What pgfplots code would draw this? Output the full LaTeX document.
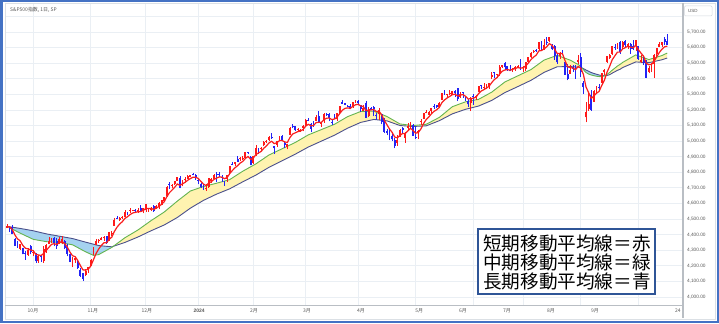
\documentclass[border=0pt]{standalone}
\usepackage{fontspec}
\setmainfont{Liberation Sans}
\newfontfamily\jp{Noto Sans CJK JP}
\usepackage{pgfplots}
\pgfplotsset{compat=1.18}
\usepackage{pgfplotstable}
\usepgfplotslibrary{fillbetween}

\definecolor{upred}{RGB}{255,25,25}
\definecolor{dnblue}{RGB}{35,35,245}
\definecolor{mared}{RGB}{250,30,30}
\definecolor{magreen}{RGB}{100,180,80}
\definecolor{manavy}{RGB}{75,80,140}
\definecolor{fillblue}{RGB}{165,210,240}
\definecolor{fillyel}{RGB}{255,243,176}
\definecolor{gridc}{RGB}{234,239,244}
\definecolor{axisc}{RGB}{185,190,196}
\definecolor{labc}{RGB}{90,90,90}
\definecolor{frameblue}{RGB}{68,114,196}
\definecolor{boxblue}{RGB}{47,85,151}

\pgfplotstableread{
i o h l c
0 4445 4466 4442 4453
1 4445 4449 4417 4444
2 4452 4462 4402 4402
3 4374 4376 4330 4330
4 4341 4357 4316 4320
5 4310 4338 4303 4337
6 4313 4314 4273 4274
7 4283 4292 4239 4275
8 4270 4317 4264 4300
9 4328 4333 4274 4288
10 4284 4300 4260 4288
11 4270 4281 4220 4229
12 4234 4268 4220 4263
13 4260 4268 4226 4258
14 4234 4324 4219 4308
15 4289 4339 4284 4336
16 4339 4385 4339 4358
17 4366 4378 4346 4376
18 4380 4386 4326 4349
19 4360 4378 4311 4327
20 4342 4383 4342 4373
21 4345 4394 4337 4373
22 4357 4368 4306 4315
23 4321 4339 4260 4278
24 4274 4277 4223 4224
25 4210 4255 4190 4217
26 4235 4255 4219 4248
27 4233 4236 4181 4186
28 4175 4183 4127 4137
29 4153 4157 4104 4117
30 4140 4178 4133 4167
31 4171 4194 4153 4194
32 4201 4245 4198 4238
33 4269 4319 4269 4318
34 4334 4373 4334 4358
35 4361 4372 4347 4365
36 4366 4386 4364 4378
37 4380 4391 4360 4383
38 4391 4393 4343 4347
39 4365 4415 4360 4415
40 4407 4421 4394 4411
41 4458 4505 4458 4496
42 4505 4522 4500 4503
43 4497 4512 4488 4509
44 4510 4520 4500 4514
45 4511 4557 4511 4547
46 4539 4542 4526 4538
47 4553 4568 4540 4556
48 4555 4561 4552 4559
49 4555 4562 4546 4551
50 4545 4568 4540 4555
51 4571 4587 4547 4551
52 4554 4569 4537 4568
53 4559 4599 4547 4595
54 4564 4572 4547 4569
55 4557 4578 4551 4567
56 4586 4590 4547 4549
57 4568 4591 4566 4585
58 4576 4610 4565 4604
59 4593 4623 4590 4622
60 4618 4644 4608 4644
61 4647 4709 4643 4707
62 4721 4739 4694 4720
63 4714 4726 4702 4719
64 4725 4747 4720 4741
65 4743 4769 4743 4768
66 4764 4779 4699 4699
67 4725 4749 4709 4746
68 4754 4773 4736 4755
69 4759 4785 4758 4775
70 4773 4785 4768 4782
71 4787 4794 4780 4783
72 4782 4789 4751 4770
73 4745 4755 4723 4743
74 4726 4729 4700 4705
75 4698 4727 4688 4689
76 4690 4722 4683 4697
77 4703 4764 4700 4764
78 4742 4765 4730 4757
79 4760 4791 4757 4783
80 4792 4799 4739 4780
81 4792 4802 4768 4784
82 4773 4782 4740 4766
83 4742 4744 4714 4739
84 4760 4784 4740 4781
85 4796 4842 4785 4840
86 4853 4868 4845 4851
87 4856 4866 4842 4865
88 4888 4903 4865 4868
89 4886 4898 4870 4894
90 4888 4907 4881 4891
91 4892 4929 4887 4928
92 4927 4932 4917 4925
93 4899 4906 4845 4846
94 4862 4906 4853 4906
95 4917 4975 4907 4959
96 4957 4957 4918 4943
97 4951 4964 4937 4954
98 4973 5000 4970 4995
99 4995 5004 4988 4998
100 5004 5031 4998 5027
101 5027 5049 5016 5022
102 4968 4971 4920 4953
103 4976 5003 4963 5001
104 5004 5032 4999 5030
105 5031 5039 4999 5006
106 4990 4994 4954 4976
107 4963 4983 4947 4982
108 5039 5090 5038 5087
109 5100 5112 5081 5089
110 5094 5098 5068 5070
111 5074 5081 5058 5078
112 5068 5077 5058 5069
113 5085 5105 5063 5096
114 5099 5140 5094 5137
115 5133 5149 5127 5131
116 5111 5114 5057 5079
117 5108 5127 5092 5105
118 5132 5165 5128 5157
119 5164 5190 5114 5124
120 5111 5125 5092 5117
121 5134 5180 5117 5175
122 5174 5180 5161 5165
123 5176 5180 5127 5150
124 5123 5136 5104 5117
125 5154 5176 5145 5149
126 5140 5180 5131 5179
127 5181 5226 5171 5224
128 5254 5261 5240 5241
129 5243 5246 5229 5234
130 5220 5229 5216 5218
131 5228 5236 5203 5203
132 5226 5249 5213 5248
133 5248 5264 5246 5254
134 5257 5263 5229 5243
135 5232 5233 5189 5205
136 5195 5229 5194 5211
137 5244 5256 5146 5147
138 5158 5222 5157 5204
139 5211 5219 5197 5202
140 5217 5224 5160 5209
141 5167 5178 5138 5161
142 5172 5211 5138 5199
143 5171 5175 5107 5123
144 5149 5150 5052 5061
145 5064 5079 5039 5051
146 5068 5077 5007 5022
147 5032 5046 5001 5011
148 5005 5019 4953 4967
149 4988 5038 4969 5010
150 5028 5076 5027 5070
151 5084 5089 5047 5072
152 5019 5058 4990 5048
153 5084 5114 5073 5100
154 5115 5124 5086 5116
155 5103 5110 5035 5036
156 5029 5096 5013 5018
157 5050 5070 5011 5064
158 5122 5139 5102 5128
159 5143 5181 5143 5181
160 5184 5200 5178 5187
161 5168 5191 5165 5188
162 5190 5215 5183 5214
163 5225 5239 5209 5223
164 5233 5234 5211 5221
165 5221 5250 5218 5247
166 5264 5311 5263 5308
167 5311 5325 5296 5297
168 5300 5305 5284 5303
169 5305 5325 5299 5308
170 5299 5324 5297 5321
171 5319 5325 5283 5307
172 5341 5342 5257 5268
173 5282 5316 5279 5305
174 5315 5316 5279 5306
175 5278 5282 5260 5267
176 5260 5270 5222 5235
177 5244 5280 5192 5278
178 5287 5302 5234 5283
179 5278 5298 5265 5291
180 5314 5355 5312 5354
181 5357 5362 5335 5352
182 5343 5376 5331 5347
183 5341 5366 5332 5361
184 5353 5376 5335 5375
185 5409 5442 5397 5421
186 5441 5442 5403 5434
187 5424 5432 5403 5431
188 5431 5488 5420 5473
189 5476 5490 5471 5487
190 5499 5505 5455 5473
191 5480 5485 5452 5465
192 5459 5490 5447 5448
193 5461 5472 5446 5469
194 5460 5483 5452 5478
195 5473 5490 5467 5483
196 5488 5524 5459 5460
197 5471 5479 5446 5475
198 5461 5510 5452 5509
199 5507 5540 5507 5537
200 5537 5570 5531 5567
201 5570 5583 5563 5572
202 5585 5590 5574 5577
203 5591 5635 5587 5633
204 5635 5642 5576 5585
205 5590 5655 5583 5615
206 5638 5667 5619 5631
207 5644 5670 5637 5667
208 5610 5622 5584 5589
209 5608 5614 5522 5545
210 5543 5557 5497 5505
211 5544 5570 5528 5564
212 5565 5585 5554 5556
213 5505 5508 5426 5427
214 5429 5492 5390 5399
215 5433 5488 5431 5459
216 5476 5487 5445 5464
217 5478 5486 5399 5436
218 5506 5551 5493 5522
219 5537 5567 5410 5446
220 5376 5383 5302 5347
221 5152 5250 5120 5186
222 5206 5313 5194 5240
223 5293 5330 5195 5199
224 5252 5327 5250 5319
225 5311 5351 5306 5344
226 5345 5364 5331 5344
227 5376 5436 5376 5434
228 5442 5464 5421 5455
229 5506 5545 5504 5543
230 5531 5562 5528 5554
231 5557 5608 5551 5608
232 5603 5620 5585 5597
233 5605 5632 5592 5620
234 5637 5643 5560 5571
235 5602 5642 5590 5634
236 5640 5651 5603 5617
237 5602 5631 5593 5626
238 5624 5628 5560 5592
239 5608 5647 5583 5592
240 5612 5651 5581 5648
241 5612 5612 5518 5528
242 5506 5553 5504 5520
243 5520 5547 5491 5503
244 5507 5523 5402 5408
245 5442 5484 5434 5471
246 5491 5501 5442 5496
247 5496 5560 5406 5554
248 5557 5600 5535 5596
249 5604 5636 5601 5626
250 5616 5637 5605 5633
251 5655 5671 5615 5634
252 5641 5690 5615 5618
}\candles

\pgfplotstableread[row sep=\\]{
i v\\
0 4453\\ 1 4450\\ 2 4434\\ 3 4399\\ 4 4373\\ 5 4361\\ 6 4332\\ 7 4313\\ 8 4309\\ 9 4302\\
10 4297\\ 11 4274\\ 12 4270\\ 13 4266\\ 14 4280\\ 15 4299\\ 16 4319\\ 17 4338\\ 18 4342\\ 19 4337\\
20 4349\\ 21 4357\\ 22 4343\\ 23 4321\\ 24 4289\\ 25 4265\\ 26 4259\\ 27 4235\\ 28 4202\\ 29 4174\\
30 4172\\ 31 4179\\ 32 4199\\ 33 4239\\ 34 4279\\ 35 4308\\ 36 4331\\ 37 4348\\ 38 4348\\ 39 4370\\
40 4384\\ 41 4421\\ 42 4448\\ 43 4468\\ 44 4483\\ 45 4504\\ 46 4515\\ 47 4529\\ 48 4539\\ 49 4543\\
50 4547\\ 51 4548\\ 52 4555\\ 53 4568\\ 54 4568\\ 55 4568\\ 56 4562\\ 57 4570\\ 58 4581\\ 59 4595\\
60 4611\\ 61 4643\\ 62 4669\\ 63 4686\\ 64 4704\\ 65 4725\\ 66 4716\\ 67 4726\\ 68 4736\\ 69 4749\\
70 4760\\ 71 4768\\ 72 4769\\ 73 4760\\ 74 4742\\ 75 4724\\ 76 4715\\ 77 4731\\ 78 4740\\ 79 4754\\
80 4763\\ 81 4770\\ 82 4769\\ 83 4759\\ 84 4766\\ 85 4791\\ 86 4811\\ 87 4829\\ 88 4842\\ 89 4859\\
90 4870\\ 91 4889\\ 92 4901\\ 93 4883\\ 94 4891\\ 95 4914\\ 96 4924\\ 97 4934\\ 98 4954\\ 99 4969\\
100 4988\\ 101 4999\\ 102 4984\\ 103 4990\\ 104 5003\\ 105 5004\\ 106 4995\\ 107 4991\\ 108 5023\\ 109 5045\\
110 5053\\ 111 5061\\ 112 5064\\ 113 5075\\ 114 5096\\ 115 5108\\ 116 5098\\ 117 5100\\ 118 5119\\ 119 5121\\
120 5120\\ 121 5138\\ 122 5147\\ 123 5148\\ 124 5138\\ 125 5142\\ 126 5154\\ 127 5177\\ 128 5198\\ 129 5210\\
130 5213\\ 131 5210\\ 132 5223\\ 133 5233\\ 134 5236\\ 135 5226\\ 136 5221\\ 137 5196\\ 138 5199\\ 139 5200\\
140 5203\\ 141 5189\\ 142 5192\\ 143 5169\\ 144 5133\\ 145 5106\\ 146 5078\\ 147 5056\\ 148 5026\\ 149 5021\\
150 5037\\ 151 5049\\ 152 5049\\ 153 5066\\ 154 5083\\ 155 5067\\ 156 5051\\ 157 5055\\ 158 5079\\ 159 5113\\
160 5138\\ 161 5155\\ 162 5175\\ 163 5191\\ 164 5201\\ 165 5216\\ 166 5247\\ 167 5264\\ 168 5277\\ 169 5287\\
170 5298\\ 171 5301\\ 172 5290\\ 173 5295\\ 174 5299\\ 175 5288\\ 176 5270\\ 177 5273\\ 178 5276\\ 179 5281\\
180 5305\\ 181 5321\\ 182 5330\\ 183 5340\\ 184 5352\\ 185 5375\\ 186 5395\\ 187 5407\\ 188 5429\\ 189 5448\\
190 5456\\ 191 5459\\ 192 5455\\ 193 5460\\ 194 5466\\ 195 5472\\ 196 5468\\ 197 5470\\ 198 5483\\ 199 5501\\
200 5523\\ 201 5539\\ 202 5552\\ 203 5579\\ 204 5581\\ 205 5592\\ 206 5605\\ 207 5626\\ 208 5614\\ 209 5591\\
210 5562\\ 211 5563\\ 212 5561\\ 213 5516\\ 214 5477\\ 215 5471\\ 216 5469\\ 217 5458\\ 218 5479\\ 219 5468\\
220 5428\\ 221 5347\\ 222 5311\\ 223 5274\\ 224 5289\\ 225 5307\\ 226 5319\\ 227 5357\\ 228 5390\\ 229 5441\\
230 5479\\ 231 5522\\ 232 5547\\ 233 5571\\ 234 5571\\ 235 5592\\ 236 5600\\ 237 5609\\ 238 5603\\ 239 5599\\
240 5615\\ 241 5586\\ 242 5564\\ 243 5544\\ 244 5499\\ 245 5490\\ 246 5492\\ 247 5513\\ 248 5541\\ 249 5569\\
250 5590\\ 251 5605\\ 252 5609\\
}\redma

\pgfplotstableread[row sep=\\]{
i v\\
0 4453\\ 5 4410\\ 10 4370\\ 15 4355\\ 20 4350\\ 25 4335\\ 30 4290\\ 33 4267\\ 35 4272\\ 40 4318\\
45 4380\\ 50 4430\\ 55 4490\\ 60 4545\\ 65 4615\\ 70 4680\\ 75 4709\\ 80 4730\\ 85 4753\\ 90 4807\\
95 4854\\ 100 4911\\ 105 4951\\ 110 4991\\ 115 5040\\ 120 5074\\ 125 5108\\ 130 5157\\ 135 5190\\ 140 5192\\
145 5158\\ 150 5110\\ 155 5100\\ 160 5108\\ 165 5152\\ 170 5221\\ 175 5252\\ 180 5268\\ 185 5314\\ 190 5379\\
195 5419\\ 200 5459\\ 205 5520\\ 210 5550\\ 215 5519\\ 216 5510\\ 217 5500\\ 218 5492\\ 219 5478\\ 220 5458\\
221 5440\\ 222 5430\\ 223 5424\\ 224 5420\\ 225 5416\\ 226 5414\\ 227 5414\\ 228 5418\\ 229 5428\\ 230 5440\\
231 5455\\ 232 5468\\ 233 5482\\ 234 5492\\ 235 5505\\ 240 5553\\ 245 5523\\ 250 5549\\ 252 5565\\
}\greenma

\pgfplotstableread[row sep=\\]{
i v\\
0 4453\\ 5 4440\\ 10 4425\\ 15 4405\\ 20 4390\\ 25 4375\\ 30 4352\\ 35 4330\\ 40 4322\\ 45 4350\\
50 4385\\ 55 4425\\ 60 4462\\ 65 4510\\ 70 4570\\ 75 4620\\ 80 4660\\ 85 4694\\ 90 4739\\ 95 4782\\
100 4832\\ 105 4874\\ 110 4916\\ 115 4962\\ 120 5000\\ 125 5038\\ 130 5083\\ 135 5120\\ 140 5139\\ 145 5130\\
150 5100\\ 155 5094\\ 160 5098\\ 165 5131\\ 170 5175\\ 175 5204\\ 180 5225\\ 185 5261\\ 190 5311\\ 195 5350\\
200 5390\\ 205 5441\\ 210 5477\\ 215 5478\\ 216 5477\\ 217 5475\\ 218 5475\\ 219 5473\\ 220 5465\\ 221 5456\\
222 5448\\ 223 5440\\ 224 5434\\ 225 5429\\ 226 5424\\ 227 5421\\ 228 5419\\ 229 5421\\ 230 5426\\ 231 5436\\
232 5445\\ 233 5454\\ 234 5461\\ 235 5472\\ 240 5508\\ 245 5503\\ 250 5522\\ 252 5533\\
}\navyma

\begin{document}
\begin{tikzpicture}
\begin{axis}[
  at={(5bp,18bp)}, anchor=south west,
  set layers,
  axis background/.style={fill=white},
  scale only axis, width=678bp, height=301bp,
  xmin=-0.76, xmax=258.02, ymin=3948.7, ymax=5879.6,
  axis line style={draw=none},
  tick style={draw=none}, major tick length=0pt,
  grid=major, major grid style={draw=gridc, line width=0.8bp},
  xtick={10,32,53,73,94,114,134,156,178,197,219,241},
  xticklabels={,,,,,,,,,,,},
  extra x ticks={9.92,32.8,53.4,73.3,94.3,114.5,135.1,157.3,174.0,190.8,207.6,224.4,256.1},
  extra x tick labels={10月,11月,12月,{\normalfont\bfseries 2024},2月,3月,4月,5月,6月,7月,8月,9月,24},
  extra x tick style={grid=none},
  xticklabel style={font=\jp\fontsize{5}{6}\selectfont, text=labc, inner sep=0pt, anchor=north, yshift=-3.5bp},
  ytick={4000,4100,...,5700},
  extra y ticks={5800}, extra y tick labels={},
  yticklabel pos=right,
  scaled y ticks=false,
  yticklabel style={font=\fontsize{4.8}{5}\selectfont, text=labc, anchor=west, inner sep=0pt, xshift=3.8bp,
    /pgf/number format/fixed, /pgf/number format/fixed zerofill, /pgf/number format/precision=2,
    /pgf/number format/1000 sep={,}, /pgf/number format/assume math mode=true},
]
\addplot[manavy, line width=0.9bp, name path=N] table[x=i,y=v] {\navyma};
\addplot[magreen, line width=0.9bp, name path=G] table[x=i,y=v] {\greenma};
\addplot[fill=fillblue] fill between[of=G and N, soft clip={domain=-1:40.6}];
\addplot[fill=fillyel] fill between[of=G and N, soft clip={domain=40.6:219.4}];
\addplot[fill=fillblue] fill between[of=G and N, soft clip={domain=219.4:228.1}];
\addplot[fill=fillyel] fill between[of=G and N, soft clip={domain=228.1:253}];
% wicks
\addplot[upred, line width=0.6bp, restrict expr to domain={\thisrow{c}-\thisrow{o}}{0:10000},
  quiver={u=0, v={\thisrow{h}-\thisrow{l}}}]
  table[x=i, y=l] {\candles};
\addplot[dnblue, line width=0.6bp, restrict expr to domain={\thisrow{c}-\thisrow{o}}{-10000:-0.5},
  quiver={u=0, v={\thisrow{h}-\thisrow{l}}}]
  table[x=i, y=l] {\candles};
% bodies
\addplot[upred, line width=1.9bp, restrict expr to domain={\thisrow{c}-\thisrow{o}}{0:10000},
  quiver={u=0, v={max(\thisrow{c}-\thisrow{o},5)}}]
  table[x=i, y=o] {\candles};
\addplot[dnblue, line width=1.9bp, restrict expr to domain={\thisrow{c}-\thisrow{o}}{-10000:-0.5},
  quiver={u=0, v={max(\thisrow{o}-\thisrow{c},5)}}]
  table[x=i, y=c] {\candles};
\addplot[mared, line width=1.2bp] table[x=i,y=v] {\redma};
\end{axis}
\begin{scope}[x=1bp,y=1bp]
\draw[gridc!70!axisc, line width=0.6bp] (5,4) rectangle (715.5,320);
% axis lines
\draw[axisc, line width=0.8bp] (5,18) -- (683,18);
\draw[axisc, line width=1.4bp] (683,320) -- (683,5);
% title and USD
\node[anchor=west, inner sep=0pt, font=\jp\fontsize{5}{6}\selectfont, text=labc] at (10,313) {S\&P500指数, 1日, SP};
\draw[gridc!50!axisc, line width=0.5bp, rounded corners=1bp] (684.5,317) rectangle (712,307);
\node[anchor=west, inner sep=0pt, font=\fontsize{4.5}{5}\selectfont, text=labc] at (688,312) {USD};
% legend box
\draw[boxblue, line width=1.3bp, fill=white] (478,94) rectangle (655,29);
\node[anchor=base west, inner sep=0pt, font=\jp\fontsize{18.7}{19}\selectfont] at (483,73) {短期移動平均線＝赤};
\node[anchor=base west, inner sep=0pt, font=\jp\fontsize{18.7}{19}\selectfont] at (483,54) {中期移動平均線＝緑};
\node[anchor=base west, inner sep=0pt, font=\jp\fontsize{18.7}{19}\selectfont] at (483,35) {長期移動平均線＝青};
% outer frame
\draw[frameblue, line width=2.5bp] (1.25,1.25) rectangle (717.75,321.75);
\pgfresetboundingbox
\path[use as bounding box] (0,0) rectangle (719,323);
\end{scope}
\end{tikzpicture}
\end{document}
